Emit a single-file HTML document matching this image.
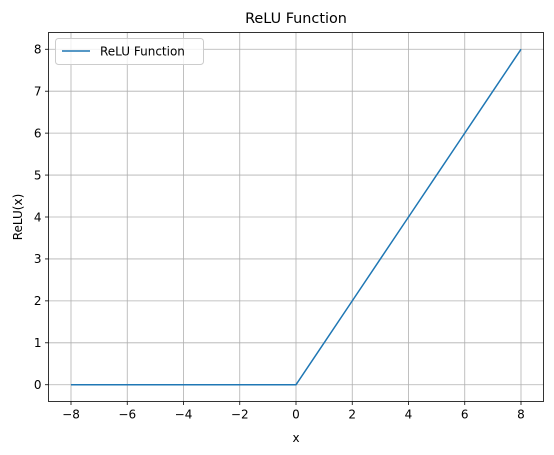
<!DOCTYPE html>
<html><head><meta charset="utf-8"><style>
body{margin:0;background:#fff}
svg{display:block;font-family:"DejaVu Sans","Liberation Sans",sans-serif}
</style></head><body>
<svg id="chart" width="554" height="455" viewBox="0 0 554 455">
<rect x="0" y="0" width="554" height="455" fill="#fff"/>
<g id="grid"></g>
<g id="xticks"></g>
<g id="yticks"></g>
<polyline id="line" fill="none" stroke="#1f77b4" stroke-width="1.5"/>
<rect x="48.5" y="32.5" width="495" height="369" fill="none" stroke="#000" stroke-width="0.8"/>
<text x="296" y="23" font-size="14.4" text-anchor="middle">ReLU Function</text>
<text x="296" y="442" font-size="12" text-anchor="middle">x</text>
<text x="22" y="217" font-size="12" text-anchor="middle" transform="rotate(-90 22 217)">ReLU(x)</text>
<g>
<rect x="55.5" y="38.5" width="148" height="26" rx="3" fill="#fff" fill-opacity="0.8" stroke="#ccc"/>
<line x1="62" y1="51" x2="90" y2="51" stroke="#1f77b4" stroke-width="1.5"/>
<text x="100" y="55.5" font-size="12">ReLU Function</text>
</g>
</svg>
<script>
const xValues=[-8,-7,-6,-5,-4,-3,-2,-1,0,1,2,3,4,5,6,7,8];
const yValues=[0,0,0,0,0,0,0,0,0,1,2,3,4,5,6,7,8];
const xTickLabels=[-8,-6,-4,-2,0,2,4,6,8];
const yTickLabels=[0,1,2,3,4,5,6,7,8];
const NS="http://www.w3.org/2000/svg";
const xMin=-8.8,xMax=8.8,yMin=-0.4,yMax=8.4;
const L=48.5,R=543.5,T=32.5,B=401.5;
function sx(v){return L+(v-xMin)/(xMax-xMin)*(R-L);}
function sy(v){return B-(v-yMin)/(yMax-yMin)*(B-T);}
function mk(tag,attrs,parent){const e=document.createElementNS(NS,tag);for(const k in attrs)e.setAttribute(k,attrs[k]);parent.appendChild(e);return e;}
const grid=document.getElementById('grid'),xt=document.getElementById('xticks'),yt=document.getElementById('yticks');
xTickLabels.forEach(v=>{const x=sx(v);
const g=mk('line',{x1:x,x2:x,y1:T,y2:B,stroke:'#b0b0b0','stroke-width':0.8},grid);


const t=mk('line',{x1:x,x2:x,y1:B,y2:B+3.5,stroke:'#000','stroke-width':0.8},xt);


const l=mk('text',{x:x,y:B+17,'font-size':12,'text-anchor':'middle'},xt);l.textContent=(v<0?'\u2212'+(-v):v);

});
yTickLabels.forEach(v=>{const y=sy(v);
const g=mk('line',{x1:L,x2:R,y1:y,y2:y,stroke:'#b0b0b0','stroke-width':0.8},grid);


const t=mk('line',{x1:L-3.5,x2:L,y1:y,y2:y,stroke:'#000','stroke-width':0.8},yt);


const l=mk('text',{x:L-7,y:y+4.3,'font-size':12,'text-anchor':'end'},yt);l.textContent=v;

});
document.getElementById('line').setAttribute('points',xValues.map((x,i)=>sx(x)+','+sy(yValues[i])).join(' '));
</script>
</body></html>
